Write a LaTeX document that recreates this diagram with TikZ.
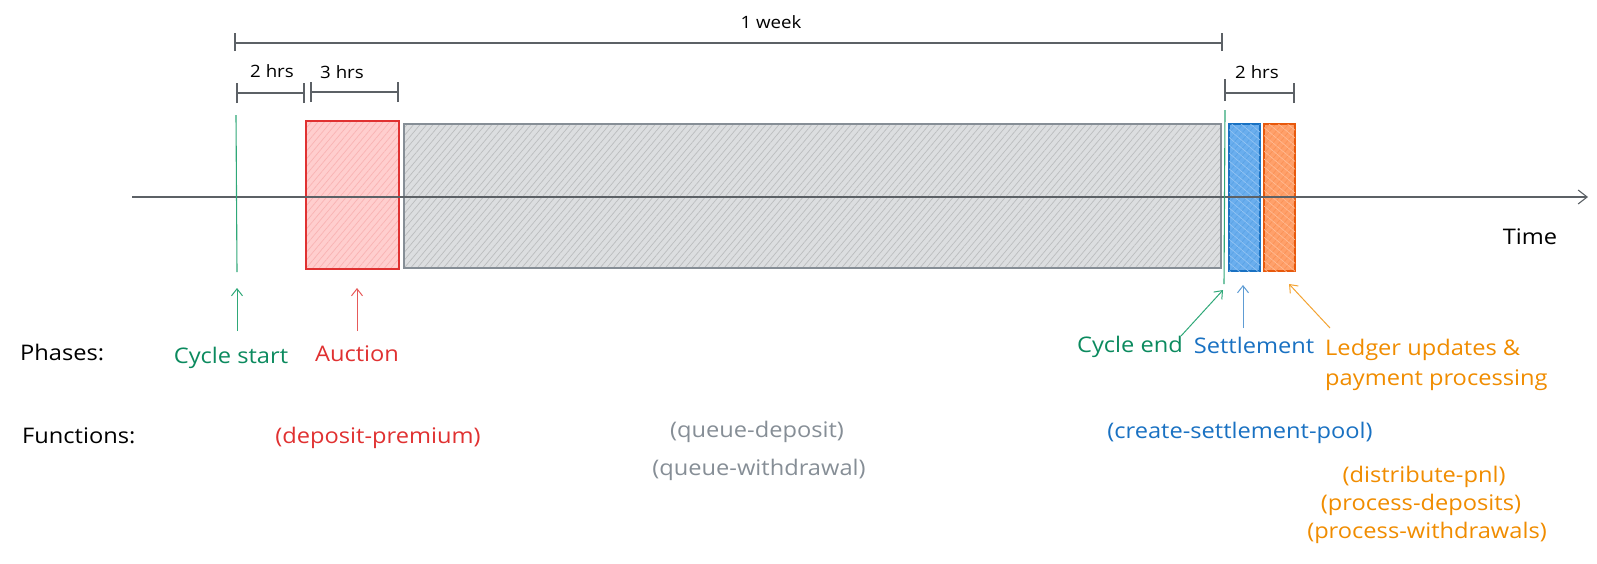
\documentclass[tikz,border=0pt]{standalone}
\usepackage{fontspec}
\setmainfont[FakeStretch=1.1]{Open Sans}
\usetikzlibrary{arrows.meta,patterns.meta}
\definecolor{axisc}{HTML}{5C6166}
\definecolor{lgreen}{HTML}{2FA878}
\definecolor{tgreen}{HTML}{0B8A5E}
\definecolor{cred}{HTML}{E03131}
\definecolor{fred}{HTML}{FFC9C9}
\definecolor{cgray}{HTML}{868E96}
\definecolor{fgray}{HTML}{DCDEE0}
\definecolor{cblue}{HTML}{1971C2}
\definecolor{fblue}{HTML}{6AAEEE}
\definecolor{corange}{HTML}{F08C00}
\definecolor{forange}{HTML}{FFA06A}
\definecolor{sorange}{HTML}{E8590C}
\begin{document}
\begin{tikzpicture}[x=1pt,y=-1pt,
  lbl/.style={font=\fontsize{21.5}{25}\selectfont, inner sep=0pt},
  small/.style={font=\fontsize{17}{20}\selectfont, inner sep=0pt},
  brk/.style={draw=axisc, line width=1.1pt},
  hatch/.style={pattern={Lines[angle=50,distance=5pt,line width=0.7pt]}},
  xhatch/.style={postaction={pattern={Lines[angle=-40,distance=6pt,line width=0.6pt]}, pattern color=#1}},
  box/.style={rectangle, inner sep=0pt, line width=1.1pt},
  ptr/.style={line width=1pt, -{Straight Barb[length=7pt,width=11pt]}}
]
\useasboundingbox (0,0) rectangle (1597,563);

% phase boxes
\node[box, draw=cred, preaction={fill=fred!90}, hatch, pattern color=fred!80!cred!90,
      minimum width=93pt, minimum height=148pt] (auction) at (352.5,195) {};
\node[box, draw=cgray, preaction={fill=fgray}, hatch, pattern color=fgray!85!black,
      minimum width=817pt, minimum height=144pt] (queue) at (812.5,196) {};
\node[box, draw=cblue, preaction={fill=fblue}, hatch, pattern color=fblue!80!cblue, xhatch=fblue!70!white,
      minimum width=31pt, minimum height=147pt] (settle) at (1244.5,197.5) {};
\node[box, draw=sorange, preaction={fill=forange}, hatch, pattern color=forange!80!sorange, xhatch=forange!70!white,
      minimum width=31pt, minimum height=147pt] (ledger) at (1279.5,197.5) {};

% time axis
\coordinate (ax0) at (132,197);
\coordinate (ax1) at (1588,197);
\draw[axisc, line width=1.1pt, -{Straight Barb[length=9pt,width=14pt]}] (ax0) -- (ax1);
\node[lbl, anchor=base, text=black] (time) at (1530,244) {Time};

% cycle lines
\coordinate (cs0) at (236,115);
\coordinate (cs1) at (237,272);
\draw[lgreen, line width=1.1pt] (cs0) -- (cs1);
\coordinate (ce0) at (1225,110);
\coordinate (ce1) at (1224,284);
\draw[lgreen, line width=1.1pt] (ce0) -- (ce1);

% brackets
\coordinate (w0) at (235,43);
\coordinate (w1) at (1222,43);
\draw[brk] (w0) -- (w1);
\draw[brk] ([yshift=-8pt]w0) -- ([yshift=10pt]w0);
\draw[brk] ([yshift=-8pt]w1) -- ([yshift=10pt]w1);
\node[small, anchor=base] (week) at (771,28) {1 week};

\coordinate (a0) at (237,93);
\coordinate (a1) at (304,93);
\draw[brk] (a0) -- (a1);
\draw[brk] ([yshift=-10pt]a0) -- ([yshift=10pt]a0);
\draw[brk] ([yshift=-10pt]a1) -- ([yshift=10pt]a1);
\node[small, anchor=base] (hrsa) at (272,77) {2 hrs};

\coordinate (b0) at (311,92);
\coordinate (b1) at (398,92);
\draw[brk] (b0) -- (b1);
\draw[brk] ([yshift=-10pt]b0) -- ([yshift=10pt]b0);
\draw[brk] ([yshift=-10pt]b1) -- ([yshift=10pt]b1);
\node[small, anchor=base] (hrsb) at (342,78) {3 hrs};

\coordinate (c0) at (1225,93);
\coordinate (c1) at (1294,93);
\draw[brk] (c0) -- (c1);
\draw[brk] ([yshift=-8pt]c0) -- ([yshift=14pt]c0);
\draw[brk] ([yshift=-10pt]c1) -- ([yshift=10pt]c1);
\node[small, anchor=base] (hrsc) at (1257,78) {2 hrs};

% row labels
\node[lbl, anchor=base west] (phases) at (20,360) {Phases:};
\node[lbl, anchor=base west] (functions) at (22,443) {Functions:};

% phase labels
\node[lbl, anchor=base, text=tgreen] (lce) at (1130,352) {Cycle end};
\node[lbl, anchor=base, text=cred] (lau) at (357,361) {Auction};
\node[lbl, anchor=base, text=tgreen] (lcs) at (231,363) {Cycle start};
\node[lbl, anchor=base, text=cblue] (lse) at (1254,353) {Settlement};
\node[lbl, anchor=base west, text=corange] (lle1) at (1325,355) {Ledger updates \&};
\node[lbl, anchor=base west, text=corange] (lle2) at (1325,385) {payment processing};

% function labels
\node[lbl, anchor=base, text=cred] (fdp) at (378,443) {(deposit-premium)};
\node[lbl, anchor=base, text=cgray] (fqd) at (757,437) {(queue-deposit)};
\node[lbl, anchor=base, text=cgray] (fqw) at (759,475) {(queue-withdrawal)};
\node[lbl, anchor=base, text=cblue] (fcs) at (1240,438) {(create-settlement-pool)};
\node[lbl, anchor=base, text=corange] (fdn) at (1424,482) {(distribute-pnl)};
\node[lbl, anchor=base, text=corange] (fpd) at (1421,510) {(process-deposits)};
\node[lbl, anchor=base, text=corange] (fpw) at (1427,538) {(process-withdrawals)};

% pointer arrows
\coordinate (p1s) at (237,331); \coordinate (p1e) at (237,288);
\draw[ptr, lgreen] (p1s) -- (p1e);
\coordinate (p2s) at (357,331); \coordinate (p2e) at (357,288);
\draw[ptr, cred!80] (p2s) -- (p2e);
\coordinate (p3s) at (1181,336); \coordinate (p3e) at (1223,290);
\draw[ptr, lgreen] (p3s) -- (p3e);
\coordinate (p4s) at (1243,328); \coordinate (p4e) at (1243,285);
\draw[ptr, cblue!70] (p4s) -- (p4e);
\coordinate (p5s) at (1330,328); \coordinate (p5e) at (1289,284);
\draw[ptr, corange!80] (p5s) -- (p5e);
\end{tikzpicture}
\end{document}
